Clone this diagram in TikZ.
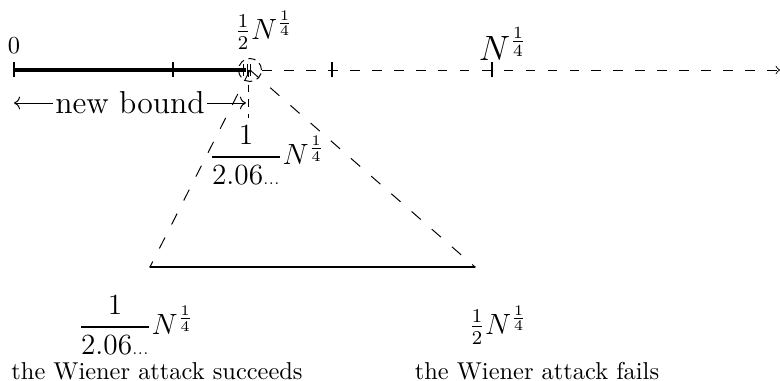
\documentclass[tikz,border=0pt]{standalone}
\usepackage{amsmath}
\usetikzlibrary{calc, arrows.meta, positioning}

\tikzset{
  axisdash/.style={dash pattern=on 4pt off 5pt},
  sidedash/.style={dash pattern=on 5pt off 6pt},
  tickmark/.style={semithick},
  lbl/.style={inner sep=1pt},
}
\newcommand{\tinydots}{{\scriptscriptstyle...}}

\begin{document}
\begin{tikzpicture}[x=1.44mm, y=1.44mm]
\useasboundingbox (0,0) rectangle (78,38.1);

% the number line
\coordinate (zero) at (1.4,31.1);
\coordinate (half) at (25.0,31.1);
\coordinate (end)  at (78,31.1);
\draw[line width=1.3pt] (zero) -- (24.6,31.1);
\draw[axisdash, -to] (26.2,31.1) -- (end);

% ticks
\foreach \x in {1.4, 17.3, 33.2, 49.2}
  \draw[tickmark] (\x,30.35) -- (\x,31.85);
\foreach \x in {24.35, 24.7, 25.05}
  \draw[thin] (\x,30.5) -- (\x,31.7);
\draw[densely dashed, thin] (half) circle[radius=1.15];

\node[lbl] (l0)    at (1.4,33.5)  {$0$};
\node[lbl, font=\large] (lhalf) at (26.4,35.1) {$\frac{1}{2}N^{\frac{1}{4}}$};
\node[lbl, font=\Large] (lN)    at (50.3,33.7) {$N^{\frac{1}{4}}$};

% the new bound
\coordinate (nbL) at (1.4,27.8);
\coordinate (nbR) at (24.6,27.8);
\draw[<->] (nbL) -- node[fill=white, font=\fontsize{13}{15}\selectfont, inner sep=1pt] {new bound} (nbR);
\draw[dashed, thin] (24.8,31.1) -- (24.8,26.3);

\node[lbl, font=\fontsize{11.5}{14}\selectfont] (lmid) at (26.7,22.6) {$\dfrac{1}{2.06\tinydots}N^{\frac{1}{4}}$};

% the triangle
\coordinate (succ) at (15.0,11.4);
\coordinate (fail) at (47.5,11.4);
\draw[sidedash] (half) -- (succ);
\draw[sidedash] (half) -- (fail);
\draw[semithick, line cap=round] (succ) -- (fail);

\node[lbl, font=\fontsize{11.5}{14}\selectfont] (lsucc) at (13.6,5.6) {$\dfrac{1}{2.06\tinydots}N^{\frac{1}{4}}$};
\node[lbl, font=\large] (lfail) at (49.8,5.6) {$\frac{1}{2}N^{\frac{1}{4}}$};
\node[lbl] (csucc) at (15.7,1.0) {the Wiener attack succeeds};
\node[lbl] (cfail) at (53.7,1.0) {the Wiener attack fails};
\end{tikzpicture}
\end{document}
